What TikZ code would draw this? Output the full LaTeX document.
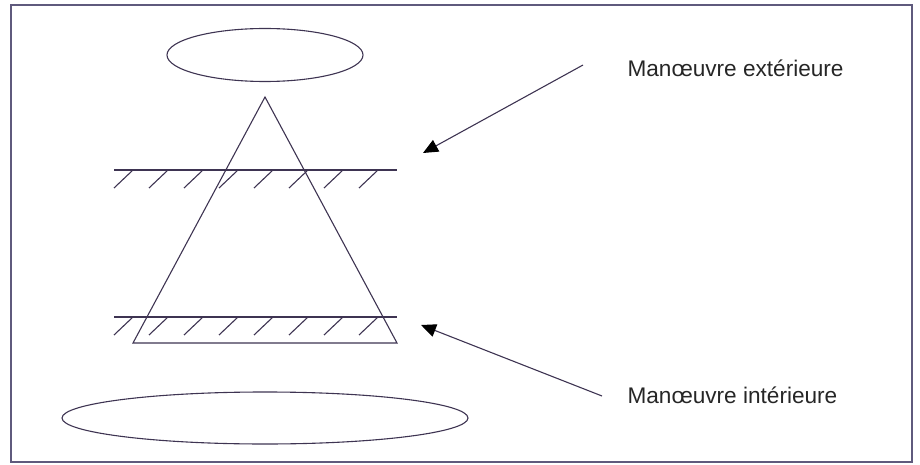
\documentclass[tikz,border=0pt]{standalone}
\usepackage{fontspec}
\setmainfont{Liberation Sans}
\usetikzlibrary{shapes.geometric,arrows.meta}

\definecolor{inkline}{RGB}{62,52,82}
\definecolor{frameline}{RGB}{95,90,125}

\begin{document}
\begin{tikzpicture}
		[
		x = 1pt, y = -1pt,
		line width = 1.1pt,
		ink/.style = {draw = inkline},
		oval/.style = {ellipse, draw = inkline, line width = 1.1pt, inner sep = 0pt},
		label text/.style = {anchor = west, inner sep = 0pt, font = \fontsize{22.6}{26}\selectfont, text = black!85},
		pointer/.style = {draw = inkline, -{Triangle[length = 15pt, width = 13pt, color = black]}},
		]
		
		\useasboundingbox (0,0) rectangle (920,465);
		\draw [frameline, line width = 1.2pt] (11,5) rectangle (912,462);
		
		\node [oval, minimum width = 196pt, minimum height = 53pt] (top) at (265,55) {};
		\node [oval, minimum width = 406pt, minimum height = 52pt] (bottom) at (265,418) {};
		
		\coordinate (apex) at (265,97);
		\coordinate (base left) at (133,343);
		\coordinate (base right) at (397,343);
		\draw [ink] (apex) -- (base left) -- (base right) -- cycle;
		
		% hatched levels
		\foreach \lev in {170, 317} {
			\draw [ink] (114,\lev) -- (397,\lev);
			\foreach \i in {0,...,7}
				\draw [ink] (133+35*\i,\lev) -- ++(-19,18);
		}
		
		\node [label text] (ext) at (627,68) {Manœuvre extérieure};
		\node [label text] (int) at (627,395) {Manœuvre intérieure};
		
		\coordinate (ext tail) at (583,65);
		\coordinate (ext tip) at (423,153);
		\coordinate (int tail) at (602,396);
		\coordinate (int tip) at (421,325);
		\draw [pointer] (ext tail) -- (ext tip);
		\draw [pointer] (int tail) -- (int tip);
		
\end{tikzpicture}
\end{document}
